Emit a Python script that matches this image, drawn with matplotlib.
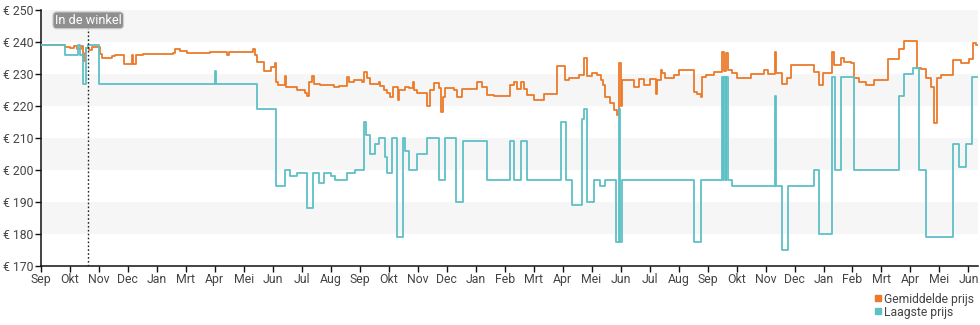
import matplotlib
matplotlib.use("Agg")
import matplotlib.pyplot as plt
from matplotlib.lines import Line2D

plt.rcParams['font.family'] = ['Roboto', 'DejaVu Sans']

# x positions are in months since the first "Sep" tick
month_labels = ['Sep', 'Okt', 'Nov', 'Dec', 'Jan', 'Mrt', 'Apr', 'Mei', 'Jun', 'Jul', 'Aug',
                'Sep', 'Okt', 'Nov', 'Dec', 'Jan', 'Feb', 'Mrt', 'Apr', 'Mei', 'Jun', 'Jul', 'Aug',
                'Sep', 'Okt', 'Nov', 'Dec', 'Jan', 'Feb', 'Mrt', 'Apr', 'Mei', 'Jun']
price_ticks = [170, 180, 190, 200, 210, 220, 230, 240, 250]

avg_x = [0, 0.84, 1.00, 1.15, 1.25, 1.40, 1.47, 1.52, 1.57, 1.65, 1.76, 2.03, 2.11, 2.45, 2.57,
         2.88, 3.14, 3.20, 3.29, 3.54, 4.58, 4.64, 4.81, 5.04, 5.85, 6.42, 6.48, 7.34, 7.40,
         7.46, 7.69, 7.94, 8.09, 8.13, 8.20, 8.41, 8.45, 8.61, 8.84, 9.13, 9.20, 9.24, 9.35,
         9.41, 9.64, 10.10, 10.30, 10.45, 10.56, 10.62, 10.79, 11.08, 11.14, 11.25, 11.37,
         11.66, 11.71, 11.83, 11.95, 12.06, 12.15, 12.31, 12.36, 12.58, 12.69, 12.84, 12.87,
         12.98, 13.32, 13.44, 13.55, 13.73, 13.81, 13.88, 13.96, 14.25, 14.36, 14.53, 15.05,
         15.22, 15.40, 15.63, 16.20, 16.32, 16.43, 16.55, 16.66, 16.78, 17.01, 17.35, 17.81,
         18.10, 18.22, 18.56, 18.73, 18.85, 19.02, 19.19, 19.31, 19.40, 19.48, 19.65, 19.76,
         19.88, 19.94, 20.00, 20.06, 20.46, 20.63, 20.81, 21.03, 21.21, 21.26, 21.38, 21.44,
         21.55, 21.84, 22.01, 22.53, 22.65, 22.76, 22.82, 22.94, 23.22, 23.51, 23.58, 23.62,
         23.70, 23.85, 24.03, 24.49, 24.95, 25.07, 25.32, 25.35, 25.58, 25.75, 25.87, 26.67,
         26.85, 26.97, 27.31, 27.37, 27.60, 27.71, 27.94, 28.05, 28.23, 28.46, 28.74, 29.21,
         29.61, 29.78, 30.24, 30.36, 30.53, 30.70, 30.81, 30.91, 31.05, 31.45, 31.74, 32.02,
         32.14, 32.25, 32.33]
avg_price = [239, 238.5, 238, 238.8, 237.8, 238.8, 234, 236.5, 238, 237.5, 238.5, 236.4, 235,
             235.5, 235.8, 233, 235.8, 233, 236, 236.4, 236.5, 237.7, 237.2, 236.6, 237, 236,
             237, 237.7, 236, 233.8, 231, 232.3, 233.3, 227.5, 226.5, 229.4, 225.8, 226, 225,
             224, 223, 227.6, 229.4, 227, 226.5, 225.8, 226.2, 226.2, 229.1, 227.6, 228.1,
             227.6, 230.7, 228.6, 226.8, 227.6, 226.2, 225, 224, 222.9, 225.8, 222, 225,
             225.8, 225.5, 227.6, 225, 224.1, 220, 225, 227.3, 225.5, 218.2, 222.9, 225.5,
             225, 222.9, 225.2, 227.6, 225.8, 223.4, 223.1, 226.5, 227.6, 225.2, 227.6, 225.2,
             223.4, 221.8, 223.9, 232.5, 228.1, 228.6, 229.7, 234.9, 229.4, 230.4, 229.7,
             228, 226.5, 222.9, 220.8, 218.7, 217.1, 233.5, 220, 228.1, 225.8, 228.3, 226.5,
             228.3, 223.9, 228.1, 231.2, 230.4, 228.6, 229.7, 231.2, 224.4, 223.9, 222.9,
             229.1, 229.7, 230.7, 237, 231, 236.5, 231.4, 230.2, 228.9, 230, 231.2, 230,
             237, 230.4, 227, 228.9, 232.8, 230.7, 226.5, 230.4, 237, 232.8, 234.9, 233.8,
             233.3, 228.6, 227.6, 226.5, 228.1, 234.6, 237.7, 240.4, 232, 231.7, 228.6, 226,
             214.7, 228.6, 229.7, 234.4, 233.5, 234.6, 239.8, 239, 239]

low_x = [0, 0.84, 1.30, 1.36, 1.46, 1.57, 1.63, 2.01, 6.02, 6.06, 7.46, 8.12, 8.41, 8.61,
         8.84, 9.18, 9.38, 9.60, 9.77, 10.00, 10.15, 10.57, 10.85, 11.15, 11.22, 11.37,
         11.54, 11.66, 11.88, 11.95, 12.11, 12.28, 12.50, 12.55, 12.72, 12.97, 13.32, 13.73,
         13.96, 14.34, 14.57, 15.40, 16.20, 16.32, 16.55, 16.76, 17.93, 18.12, 18.33, 18.68,
         18.75, 18.85, 19.08, 19.29, 19.48, 19.86, 19.96, 19.99, 20.06, 22.53, 22.76, 23.51,
         23.55, 23.58, 23.62, 23.65, 23.70, 23.85, 25.32, 25.36, 25.56, 25.77, 26.67, 26.85,
         27.31, 27.39, 27.60, 28.05, 29.61, 29.78, 30.07, 30.30, 30.53, 31.45, 31.68, 31.91,
         32.11, 32.33]
low_price = [239, 236, 239, 236, 227, 238, 239, 227, 231, 227, 219, 195, 200, 198, 199, 188,
             199, 196, 199, 198, 197, 199, 200, 215, 211, 205, 208, 210, 204, 199, 210, 179,
             210, 206, 200, 205, 210, 197, 210, 190, 209, 197, 209, 197, 209, 197, 215, 197,
             189, 216, 219, 190, 197, 195, 197, 177.5, 219, 177.5, 197, 177.5, 197, 229, 197,
             229, 197, 229, 197, 195, 223, 195, 175, 195, 200, 180, 229, 200, 229, 200, 223,
             230, 232, 200, 179, 208, 201, 208, 229, 229]

store_date = 1.64
store_label = 'In de winkel'

orange = '#EC7A2A'
teal = '#5EC0C7'

fig = plt.figure(figsize=(9.8, 3.25), dpi=100)
ax = fig.add_axes([0.0415, 0.182, 0.9565, 0.787])

# alternating horizontal bands
for lo in price_ticks[1:-1:2]:
    ax.axhspan(lo, lo + 10, color='#f6f6f6', lw=0, zorder=0)

ax.plot(avg_x, avg_price, drawstyle='steps-post', color=orange, lw=1.3, zorder=3)
ax.plot(low_x, low_price, drawstyle='steps-post', color=teal, lw=1.3, zorder=4)

ax.axvline(store_date, color='#222222', lw=1, ls=(0, (1.2, 1.6)), zorder=5)
ax.text(store_date, 246.8, store_label, ha='center', va='center', color='white',
        fontsize=9.2, zorder=6,
        bbox=dict(boxstyle='round,pad=0.15,rounding_size=0.3', fc='#8f8f8f', ec='#cfcfcf', lw=0.8))

ax.set_xlim(0, 32.33)
ax.set_ylim(170, 250)
ax.set_xticks(range(len(month_labels)))
ax.set_xticklabels(month_labels)
ax.set_yticks(price_ticks)
ax.set_yticklabels(['€ %d' % v for v in price_ticks])

for s in ['top', 'right']:
    ax.spines[s].set_visible(False)
for s in ['left', 'bottom']:
    ax.spines[s].set_color('#111111')
    ax.spines[s].set_linewidth(1.1)
ax.tick_params(axis='both', length=4, width=1, color='#111111', labelcolor='#444444',
               labelsize=8.8, pad=1)

handles = [Line2D([], [], ls='none', marker='s', ms=5, color=orange),
           Line2D([], [], ls='none', marker='s', ms=5, color=teal)]
fig.legend(handles, ['Gemiddelde prijs', 'Laagste prijs'], loc='lower left',
           bbox_to_anchor=(0.889, 0.012), frameon=False, fontsize=8.7, labelspacing=0.0,
           handletextpad=0.05, handlelength=0.8, borderpad=0.2, borderaxespad=0,
           labelcolor='#444444')

fig.savefig('out.png', dpi=100)
